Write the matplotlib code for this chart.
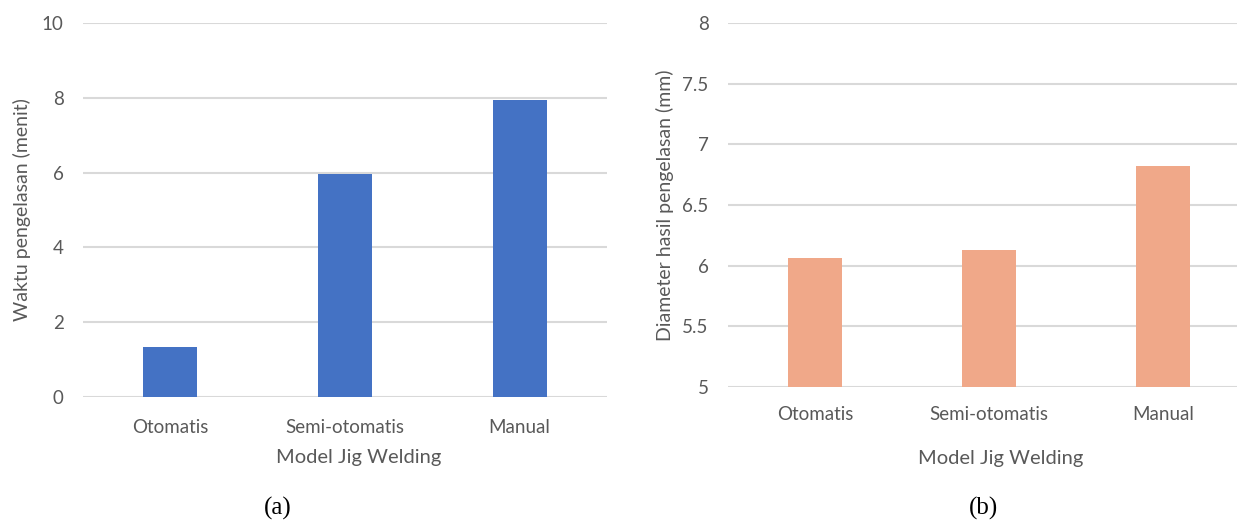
import matplotlib.pyplot as plt

plt.rcParams['font.family'] = ['Lato', 'DejaVu Sans']

models = ["Otomatis", "Semi-otomatis", "Manual"]
waktu = [1.33, 5.97, 7.93]          # menit
diameter = [6.06, 6.13, 6.82]       # mm

txt = "#595959"
grid_c = "#d9d9d9"


def style_axes(ax, ylim, yticks, ylabel, lbl_pad, xpad, xlbl_pad, xlbl_x):
    ax.set_xlim(-0.5, 2.5)
    ax.set_ylim(*ylim)
    ax.set_yticks(yticks)
    ax.set_yticklabels([f"{t:g}" for t in yticks])
    ax.set_xticks(range(len(models)))
    ax.set_xticklabels(models)
    for s in ax.spines.values():
        s.set_visible(False)
    ax.yaxis.grid(True, color=grid_c, linewidth=1.5)
    ax.set_axisbelow(True)
    ax.tick_params(length=0, colors=txt, labelsize=13.5)
    ax.tick_params(axis="x", pad=xpad)
    ax.tick_params(axis="y", pad=14)
    ax.set_xlabel("Model Jig Welding", color=txt, fontsize=14.5, labelpad=xlbl_pad)
    ax.xaxis.label.set_x(xlbl_x)
    ax.set_ylabel(ylabel, color=txt, fontsize=14, labelpad=lbl_pad)


fig = plt.figure(figsize=(12.37, 5.22), dpi=100)

# (a) waktu pengelasan
ax1 = fig.add_axes([0.0671, 0.2395, 0.4236, 0.7165])
ax1.bar(range(len(models)), waktu, width=0.31, color="#4472C4", zorder=2)
style_axes(ax1, (0, 10), [0, 2, 4, 6, 8, 10], "Waktu pengelasan (menit)", 8, 16, 9, 0.527)

# (b) diameter hasil pengelasan
ax2 = fig.add_axes([0.5885, 0.2586, 0.422, 0.6973])
ax2.bar(range(len(models)), diameter, width=0.31, color="#F0A889", zorder=2)
style_axes(ax2, (5, 8), [5, 5.5, 6, 6.5, 7, 7.5, 8], "Diameter hasil pengelasan (mm)", 6, 14, 19, 0.523)

fig.text(278 / 1237, 1 - 508 / 522, "(a)", ha="center", va="center",
         fontsize=18, family="Liberation Serif", color="black")
fig.text(983 / 1237, 1 - 508 / 522, "(b)", ha="center", va="center",
         fontsize=18, family="Liberation Serif", color="black")

fig.savefig("out.png", dpi=100, facecolor="white")
